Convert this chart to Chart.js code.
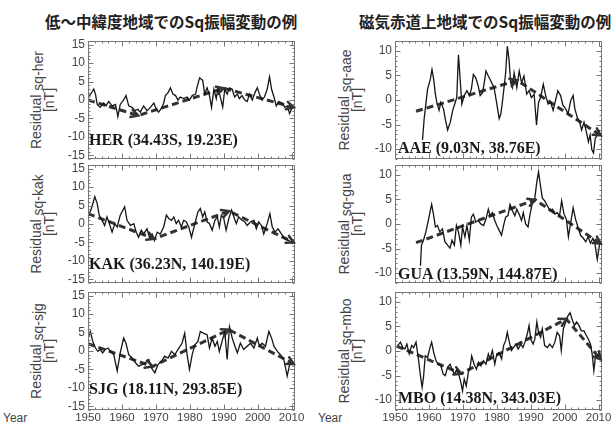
<!DOCTYPE html>
<html>
<head>
<meta charset="utf-8">
<script src="https://cdn.jsdelivr.net/npm/chart.js@4"></script>
<style>
body { margin: 0; background: #fff; width: 612px; height: 432px; position: relative; overflow: hidden; font-family: "Liberation Sans", Arial, sans-serif; }
canvas { position: absolute; }
.title { position: absolute; top: 14px; font-family: "Noto Sans CJK JP", sans-serif; font-weight: bold; font-size: 15.5px; line-height: 15.5px; color: #222; white-space: nowrap; }
.stn { position: absolute; font-family: "Liberation Serif", serif; font-weight: bold; font-size: 16px; line-height: 16px; color: #1a1a1a; white-space: nowrap; }
.ylab { position: absolute; width: 118px; height: 28px; transform: rotate(-90deg); text-align: center; color: #444; font-size: 14px; line-height: 13px; white-space: nowrap; }
.ylab span { position: relative; top: 2px; }
.year { position: absolute; top: 411px; font-size: 12px; color: #444; }
</style>
</head>
<body>
<div class="title" style="left:45px">低～中緯度地域でのSq振幅変動の例</div>
<div class="title" style="left:359px">磁気赤道上地域でのSq振幅変動の例</div>

<div class="ylab" style="left:-15px;top:86px">Residual <span>sq-her</span><br>[nT]</div>
<div class="ylab" style="left:-15px;top:210px">Residual <span>sq-kak</span><br>[nT]</div>
<div class="ylab" style="left:-15px;top:337px">Residual <span>sq-sjg</span><br>[nT]</div>
<div class="ylab" style="left:293px;top:86px">Residual <span>sq-aae</span><br>[nT]</div>
<div class="ylab" style="left:293px;top:210px">Residual <span>sq-gua</span><br>[nT]</div>
<div class="ylab" style="left:293px;top:337px">Residual <span>sq-mbo</span><br>[nT]</div>

<div class="year" style="left:3px">Year</div>
<div class="year" style="left:318px">Year</div>

<script>
// shared axes
const xMin = 1950, xMax = 2011;
const xTicks = [1950, 1960, 1970, 1980, 1990, 2000, 2010];
const yTicksMid = [-15, -10, -5, 0, 5, 10, 15];
const yTicksEq = [-10, -5, 0, 5, 10];

// HER (34.43S, 19.23E)
const herYears = [1950.0,1951.7,1952.2,1952.7,1953.6,1954.6,1955.3,1956.1,1957.1,1958.1,1958.8,1959.5,1960.5,1961.2,1962.0,1963.0,1963.8,1964.7,1965.4,1966.4,1967.4,1968.4,1969.4,1970.1,1970.8,1971.8,1972.3,1972.8,1973.6,1974.3,1975.0,1975.8,1976.5,1977.2,1978.2,1979.2,1979.9,1980.7,1981.7,1982.2,1982.9,1983.8,1984.4,1985.1,1985.8,1986.4,1987.1,1987.8,1988.3,1989.0,1989.7,1990.3,1991.0,1991.7,1992.5,1993.2,1994.0,1994.6,1995.4,1996.2,1996.9,1997.6,1998.4,1999.2,1999.9,2000.5,2001.3,2002.0,2002.8,2003.5,2004.1,2004.8,2005.5,2006.2,2007.2,2008.0,2008.7,2009.4,2010.2];
const herVals = [0.4,3.0,1.6,-1.2,-2.0,-0.8,-1.6,-0.4,-1.6,-1.2,-4.5,-1.2,0,1.2,-1.6,-2.0,-2.9,-2.5,-3.3,-1.6,-2.9,-2.0,-0.8,-2.5,-3.3,-2.0,-0.8,1.2,2.0,3.3,1.6,1.2,0,0.8,0.4,0.8,0,1.2,1.6,3.7,6.0,5.3,1.6,3.3,1.2,-2.0,2.9,0.4,3.3,0.8,-1.9,2.9,1.6,3.3,2.9,0.8,1.6,0.4,1.2,0,-0.4,1.6,0,2.0,3.3,1.6,0,0.8,2.9,6.3,2.9,0.8,-1.6,-0.4,-0.8,-2.0,-1.6,-3.7,-2.0];
const herTrendYears = [1950, 1964.8, 1990, 2010.6];
const herTrendVals = [0, -4.2, 3.2, -2.0];

// KAK (36.23N, 140.19E)
const kakYears = [1950,1951,1952,1952.7,1953.3,1954.1,1954.9,1955.6,1956.3,1957.1,1957.9,1958.6,1959.5,1960.8,1961.5,1962.5,1963.5,1964.2,1964.9,1965.7,1966.4,1967.4,1968.1,1968.9,1969.6,1970.4,1971.3,1972.3,1973.1,1973.8,1974.6,1975.3,1976.0,1976.7,1977.5,1978.2,1978.9,1979.7,1980.5,1981.5,1982.4,1983.1,1983.8,1984.4,1985.1,1985.8,1986.6,1987.4,1988.1,1988.7,1989.3,1990.0,1990.7,1991.5,1992.3,1993.0,1993.7,1994.4,1995.4,1996.2,1996.9,1997.9,1998.9,1999.6,2000.3,2001.1,2001.8,2002.8,2003.6,2004.3,2005.1,2006.0,2007.0,2008.0,2009.2,2010.4];
const kakVals = [1.9,4.2,7.4,5.6,2.4,1.0,-0.4,1.9,0.1,-2.2,0.1,-0.8,2.4,4.7,1.0,-0.4,0.1,-2.2,-3.6,-1.7,-2.7,-1.3,-3.6,-2.7,-4.5,-2.2,-2.7,-0.8,2.4,1.5,1.0,1.9,0.1,1.0,-0.8,1.0,0.7,-0.8,-3.6,0.1,3.3,4.2,1.9,3.3,0.6,0.1,-1.7,1.0,1.9,-0.8,2.4,1.5,-1.7,1.5,3.8,1.9,0.1,1.9,1.0,0.6,-0.4,0.6,1.0,-1.3,0.6,-0.4,-2.7,0.1,2.8,-0.8,-2.2,-1.3,-2.7,-4.0,-4.5,-5.4];
const kakTrendYears = [1950, 1969.5, 1991.5, 2010.6];
const kakTrendVals = [2.8, -4.0, 3.5, -5.0];

// SJG (18.11N, 293.85E)
const sjgYears = [1950,1950.7,1951.4,1952.2,1952.9,1953.6,1954.3,1955.1,1955.9,1956.6,1957.6,1958.6,1959.5,1960.5,1961.2,1962.0,1963.0,1964.0,1964.9,1965.9,1966.9,1967.9,1968.7,1969.7,1970.6,1971.6,1972.6,1973.6,1974.6,1975.6,1976.5,1977.7,1978.5,1979.2,1979.9,1980.7,1981.5,1982.4,1983.1,1984.1,1985.1,1985.8,1986.6,1987.4,1988.1,1988.7,1989.5,1990.3,1991.0,1991.7,1992.5,1993.3,1994.0,1994.9,1995.9,1996.9,1997.9,1998.9,1999.9,2000.5,2001.3,2002.3,2003.3,2004.1,2004.8,2005.8,2006.7,2007.7,2008.7,2009.4,2010.4];
const sjgVals = [3.5,5.3,2.6,0.8,-0.1,0.4,-0.5,0.4,0.8,-0.1,-1.0,-5.4,-0.5,3.5,2.1,-1.0,-1.9,-3.2,-4.1,-3.7,-3.2,-2.3,-4.6,-5.9,-3.7,-2.8,-1.4,-1.9,-0.1,-1.0,0.4,2.1,4.8,-1.0,-5.0,-1.0,1.7,2.6,5.3,4.8,4.4,0.8,3.5,1.3,2.6,-0.1,2.6,5.3,-2.3,6.6,3.5,1.3,-0.5,2.1,0.4,1.3,2.1,0.8,3.5,1.3,2.1,1.3,5.3,3.5,1.3,-0.1,-1.0,-2.3,-6.8,-3.7,-3.2];
const sjgTrendYears = [1950, 1969, 1991.5, 2010.6];
const sjgTrendVals = [2.0, -4.2, 5.8, -3.5];

// AAE (9.03N, 38.76E)
const aaeYears = [1958.1,1958.6,1959.1,1959.6,1960.4,1960.9,1961.4,1961.9,1962.4,1963.0,1963.5,1964.3,1964.8,1965.5,1966.3,1967.0,1967.6,1968.2,1968.7,1969.2,1969.7,1970.4,1971.2,1971.9,1972.5,1973.1,1973.8,1974.5,1975.1,1975.8,1976.3,1976.8,1977.5,1978.2,1979.2,1980.0,1980.7,1981.2,1981.7,1982.2,1982.6,1983.1,1983.6,1984.1,1984.6,1985.1,1985.9,1986.6,1987.3,1988.0,1988.8,1989.5,1990.2,1991.0,1991.7,1992.3,1992.9,1993.7,1994.4,1995.1,1995.9,1996.6,1997.4,1998.0,1998.8,1999.5,2000.3,2001.0,2001.8,2002.5,2003.0,2003.7,2004.4,2005.0,2005.7,2006.4,2007.0,2007.5,2008.0,2008.5,2009.0,2009.6,2010.4];
const aaeVals = [-8.1,-3.8,-0.8,2.2,4.2,6.2,4.2,1.2,-0.8,-2.1,-0.5,-1.8,-3.8,-6.1,-4.5,-2.1,-0.8,0.5,9.2,4.2,-0.8,0.9,1.9,0.9,2.2,5.2,4.5,2.9,0.9,1.5,3.5,5.9,4.9,3.9,2.5,-0.8,-3.8,-2.8,-0.1,2.9,5.5,10.9,8.2,3.5,2.5,5.5,2.5,5.9,3.5,4.9,1.2,1.9,0.5,1.2,-5.1,-0.5,0.5,3.2,0.9,-0.8,-0.5,-2.1,0.2,1.9,0.9,-1.1,-1.8,-2.8,-0.1,0.9,-1.8,-3.5,-4.5,-6.1,-4.5,-6.5,-8.5,-7.1,-10.1,-10.8,-7.8,-7.1,-6.1];
const aaeTrendYears = [1956.2, 1986, 2010.6];
const aaeTrendVals = [-2.3, 4.0, -7.2];

// GUA (13.59N, 144.87E)
const guaYears = [1957.5,1957.8,1958.4,1959.1,1959.8,1960.4,1960.8,1961.4,1961.9,1962.5,1963.2,1964.0,1964.7,1965.5,1966.2,1966.8,1967.5,1968.1,1968.7,1969.4,1969.9,1970.6,1971.2,1971.9,1972.5,1973.1,1973.8,1974.5,1975.3,1976.1,1976.8,1977.5,1978.0,1978.7,1979.4,1980.0,1980.7,1981.4,1982.0,1982.6,1983.3,1983.9,1984.6,1985.3,1985.9,1986.6,1987.3,1987.8,1988.5,1989.2,1989.8,1990.5,1991.2,1991.8,1992.3,1992.7,1993.4,1994.1,1994.9,1995.7,1996.4,1997.1,1997.8,1998.5,1999.1,1999.8,2000.5,2001.1,2001.8,2002.5,2003.2,2003.9,2004.7,2005.5,2006.2,2006.9,2007.6,2008.3,2008.9,2009.6,2010.4];
const guaVals = [-8.5,-4.3,-3.3,-1.6,0.7,2.7,4.0,1.7,-0.6,-0.3,-1.6,-1.0,-3.6,-4.3,-4.9,-3.3,-4.3,-0.3,-1.6,-4.3,-0.6,-2.6,-0.3,-3.3,1.4,2.0,0.4,0.7,0.0,-0.3,1.0,3.0,1.7,2.3,0.7,-0.3,-1.3,-2.3,-0.3,1.4,1.7,4.0,2.7,1.7,3.0,2.0,0.7,2.3,0.0,-0.6,2.0,4.3,5.3,8.6,10.6,8.6,5.3,4.7,3.7,2.7,3.0,2.0,2.3,1.7,4.7,2.0,1.0,-2.6,0.4,3.3,1.0,-0.6,-2.3,-2.9,-3.6,-2.6,-3.9,-2.9,-3.9,-7.2,-3.6];
const guaTrendYears = [1956.2, 1991.3, 2010.6];
const guaTrendVals = [-3.8, 4.9, -4.0];

// MBO (14.38N, 343.03E)
const mboYears = [1950.8,1951.6,1952.3,1952.9,1953.5,1954.2,1954.9,1955.5,1956.2,1956.9,1957.5,1958.0,1958.4,1958.9,1959.6,1960.3,1960.8,1961.4,1962.1,1962.7,1963.5,1964.2,1964.8,1965.5,1966.2,1967.0,1967.6,1968.2,1968.9,1969.4,1969.9,1970.4,1971.0,1971.6,1972.2,1972.6,1973.3,1974.0,1974.6,1975.3,1976.1,1976.8,1977.5,1978.0,1978.7,1979.4,1980.0,1980.7,1981.4,1982.0,1982.6,1983.1,1983.6,1984.3,1984.9,1985.6,1986.3,1987.1,1987.7,1988.3,1989.0,1989.5,1990.0,1990.7,1991.2,1991.8,1992.3,1992.9,1993.4,1994.1,1994.9,1995.6,1996.4,1997.1,1997.8,1998.5,1999.0,1999.6,2000.3,2001.0,2001.6,2002.3,2002.9,2003.5,2004.2,2004.9,2005.7,2006.4,2007.0,2007.6,2008.1,2008.6,2009.1,2009.8,2010.4];
const mboVals = [1.1,1.8,0.7,0.4,1.4,-0.6,1.1,0.7,1.8,-1.6,-5.0,-7.4,-5.4,-1.0,-1.3,0.7,1.8,-0.3,-2.0,-2.7,-3.0,-4.7,-5.0,-3.3,-2.7,-4.0,-4.7,-3.7,-5.0,-6.4,-8.1,-5.7,-7.1,-4.4,-3.0,-1.0,-2.7,-3.7,-2.3,-3.0,-2.0,-2.7,-0.6,-1.6,0.1,-2.7,-0.6,-0.3,-1.6,1.1,2.1,3.8,2.1,0.1,0.7,1.4,0.4,1.4,0.7,1.8,3.5,5.2,2.4,1.4,2.4,5.9,3.8,2.8,4.5,1.1,0.7,1.4,0.7,1.8,3.8,3.1,0.1,4.5,5.9,7.2,7.8,6.2,5.2,5.9,5.2,4.1,4.1,3.1,2.4,1.4,-0.6,-4.0,-1.0,-1.3,0.1];
const mboTrendYears = [1950.5, 1969.5, 2000.5, 2010.6];
const mboTrendVals = [1.0, -4.6, 6.5, -1.7];

// station labels
const stations = ['HER (34.43S, 19.23E)', 'KAK (36.23N, 140.19E)', 'SJG (18.11N, 293.85E)',
                  'AAE (9.03N, 38.76E)', 'GUA (13.59N, 144.87E)', 'MBO (14.38N, 343.03E)'];

const AXW = 36;   // room for y tick labels
const PAD = 3;
const RPAD = 14;  // room for the last year label
const PLOT_W = 207;
const PLOT_H = 118;
const XAXH = 16;

const panels = [
    { years: herYears, vals: herVals, tYears: herTrendYears, tVals: herTrendVals, yMin: -16, yMax: 16, yTicks: yTicksMid, left: 88, top: 41, bottom: false, label: stations[0], lx: 89, ly: 132 },
    { years: kakYears, vals: kakVals, tYears: kakTrendYears, tVals: kakTrendVals, yMin: -16, yMax: 16, yTicks: yTicksMid, left: 88, top: 165, bottom: false, label: stations[1], lx: 89, ly: 256 },
    { years: sjgYears, vals: sjgVals, tYears: sjgTrendYears, tVals: sjgTrendVals, yMin: -16, yMax: 16, yTicks: yTicksMid, left: 88, top: 292, bottom: true, label: stations[2], lx: 89, ly: 381 },
    { years: aaeYears, vals: aaeVals, tYears: aaeTrendYears, tVals: aaeTrendVals, yMin: -12, yMax: 12, yTicks: yTicksEq, left: 395, top: 41, bottom: false, label: stations[3], lx: 398, ly: 140 },
    { years: guaYears, vals: guaVals, tYears: guaTrendYears, tVals: guaTrendVals, yMin: -12, yMax: 12, yTicks: yTicksEq, left: 395, top: 165, bottom: false, label: stations[4], lx: 398, ly: 266 },
    { years: mboYears, vals: mboVals, tYears: mboTrendYears, tVals: mboTrendVals, yMin: -12, yMax: 12, yTicks: yTicksEq, left: 395, top: 292, bottom: true, label: stations[5], lx: 398, ly: 390 }
];

// box, small inward ticks on all four sides, and tick labels
const framePlugin = {
    id: 'frame',
    afterDatasetsDraw(chart, args, opts) {
        const { ctx, chartArea: a, scales: { x, y } } = chart;
        ctx.save();
        ctx.strokeStyle = '#777';
        ctx.lineWidth = 1;
        const l = Math.round(a.left) + 0.5, r = Math.round(a.right) - 0.5;
        const t = Math.round(a.top) + 0.5, b = Math.round(a.bottom) - 0.5;
        ctx.strokeRect(l, t, r - l, b - t);
        ctx.beginPath();
        for (let yr = 1950; yr <= 2011; yr += 2) {
            const px = Math.round(x.getPixelForValue(yr)) + 0.5;
            const len = yr % 10 === 0 ? 5 : 2;
            ctx.moveTo(px, t); ctx.lineTo(px, t + len);
            ctx.moveTo(px, b); ctx.lineTo(px, b - len);
        }
        for (let v = Math.ceil(y.min); v <= Math.floor(y.max); v++) {
            const py = Math.round(y.getPixelForValue(v)) + 0.5;
            const len = v % 5 === 0 ? 5 : 2;
            ctx.moveTo(l, py); ctx.lineTo(l + len, py);
            ctx.moveTo(r, py); ctx.lineTo(r - len, py);
        }
        ctx.stroke();

        ctx.fillStyle = '#444';
        ctx.font = '12px "Liberation Sans", Arial, sans-serif';
        ctx.textAlign = 'right';
        ctx.textBaseline = 'middle';
        opts.yTicks.forEach(v => ctx.fillText(String(v), a.left - 3, y.getPixelForValue(v)));
        if (opts.bottom) {
            ctx.font = '11.5px "Liberation Sans", Arial, sans-serif';
            ctx.textAlign = 'center';
            ctx.textBaseline = 'top';
            xTicks.forEach(v => ctx.fillText(String(v), x.getPixelForValue(v), a.bottom + 2));
        }
        ctx.restore();
    }
};

// open arrow heads at the end of every trend segment
const arrowPlugin = {
    id: 'arrows',
    afterDatasetsDraw(chart) {
        const pts = chart.getDatasetMeta(1).data;
        const ctx = chart.ctx;
        ctx.save();
        ctx.strokeStyle = '#333';
        ctx.lineWidth = 2.5;
        ctx.lineCap = 'round';
        for (let i = 1; i < pts.length; i++) {
            const p = pts[i], q = pts[i - 1];
            const ang = Math.atan2(p.y - q.y, p.x - q.x);
            ctx.beginPath();
            ctx.moveTo(p.x - 8 * Math.cos(ang - 0.5), p.y - 8 * Math.sin(ang - 0.5));
            ctx.lineTo(p.x, p.y);
            ctx.lineTo(p.x - 8 * Math.cos(ang + 0.5), p.y - 8 * Math.sin(ang + 0.5));
            ctx.stroke();
        }
        ctx.restore();
    }
};

function pairs(xs, ys) {
    return xs.map((x, i) => ({ x: x, y: ys[i] })).filter(p => p.y !== undefined);
}

panels.forEach(p => {
    const canvas = document.createElement('canvas');
    const w = AXW + PLOT_W + RPAD;
    const h = PAD + PLOT_H + (p.bottom ? XAXH : PAD);
    canvas.width = w;
    canvas.height = h;
    canvas.style.left = (p.left - AXW) + 'px';
    canvas.style.top = (p.top - PAD) + 'px';
    canvas.style.width = w + 'px';
    canvas.style.height = h + 'px';
    document.body.appendChild(canvas);

    const lbl = document.createElement('div');
    lbl.className = 'stn';
    lbl.textContent = p.label;
    lbl.style.left = p.lx + 'px';
    lbl.style.top = p.ly + 'px';
    document.body.appendChild(lbl);

    new Chart(canvas.getContext('2d'), {
        type: 'line',
        data: {
            datasets: [
                {
                    data: pairs(p.years, p.vals),
                    borderColor: '#151515',
                    borderWidth: 1.3,
                    pointRadius: 0,
                    tension: 0,
                    fill: false
                },
                {
                    data: pairs(p.tYears, p.tVals),
                    borderColor: '#333',
                    borderWidth: 3,
                    borderDash: [7, 4],
                    pointRadius: 0,
                    tension: 0,
                    fill: false
                }
            ]
        },
        options: {
            responsive: false,
            animation: false,
            devicePixelRatio: 1,
            layout: { padding: { top: PAD, right: RPAD, bottom: p.bottom ? XAXH : PAD, left: AXW } },
            plugins: {
                legend: { display: false },
                tooltip: { enabled: false },
                frame: { yTicks: p.yTicks, bottom: p.bottom }
            },
            scales: {
                x: { type: 'linear', min: xMin, max: xMax, display: false },
                y: { type: 'linear', min: p.yMin, max: p.yMax, display: false }
            }
        },
        plugins: [framePlugin, arrowPlugin]
    });
});
</script>
</body>
</html>
